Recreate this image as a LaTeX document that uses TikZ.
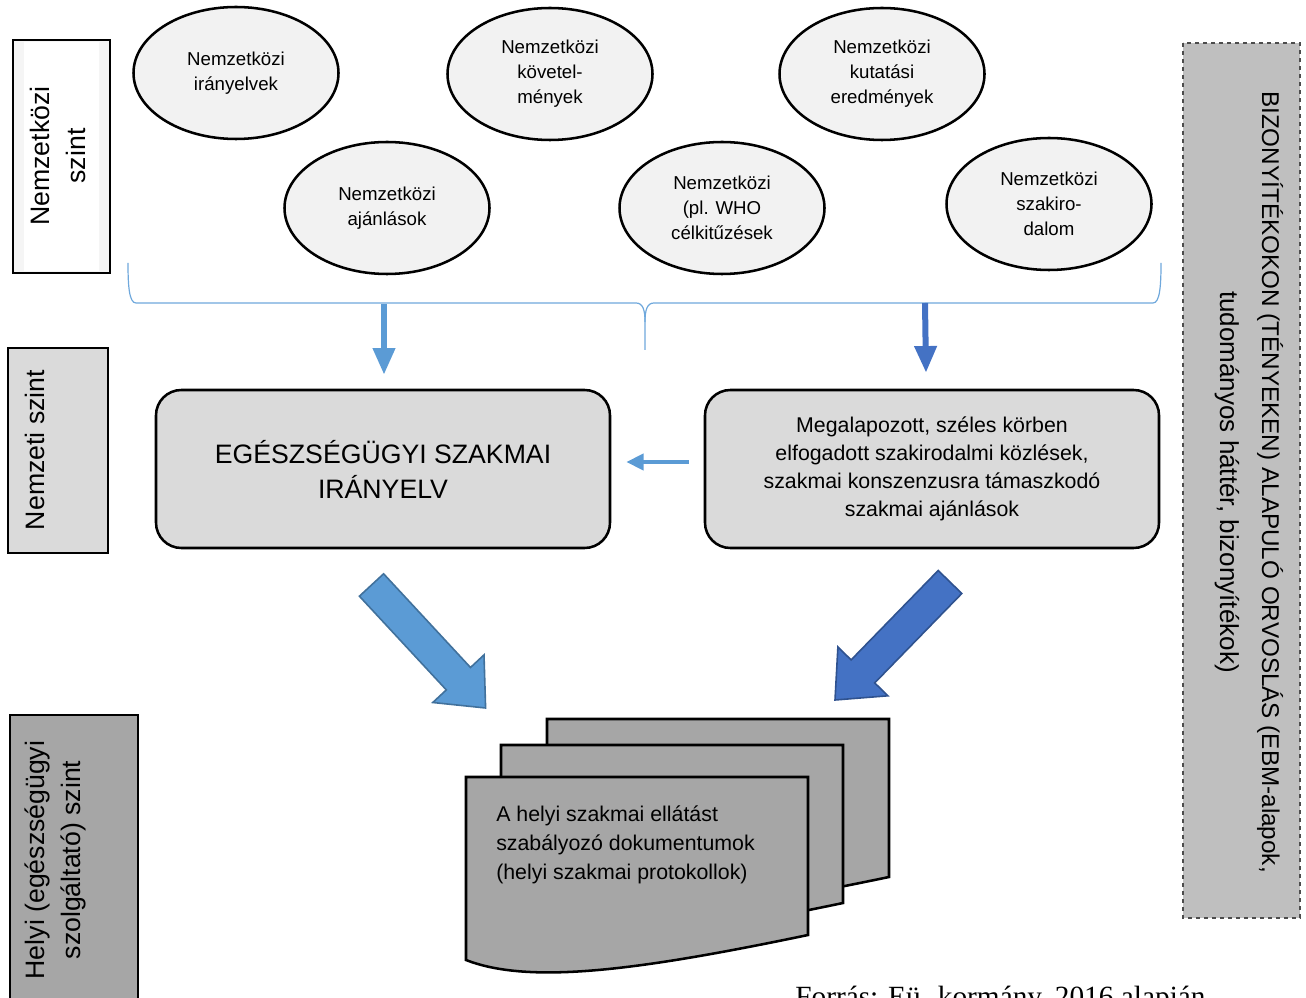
\documentclass[tikz,border=0pt]{standalone}
\usepackage{fontspec}
\setmainfont{Liberation Sans}
\newfontfamily\srcfont{Liberation Serif}
\usetikzlibrary{shapes.geometric,arrows.meta,calc}

\definecolor{ellfill}{HTML}{F2F2F2}
\definecolor{boxfill}{HTML}{DADADA}
\definecolor{docfill}{HTML}{A6A6A6}
\definecolor{ebmfill}{HTML}{BFBFBF}
\definecolor{lightblue}{HTML}{5B9BD5}
\definecolor{lightblueedge}{HTML}{41719C}
\definecolor{darkblue}{HTML}{4472C4}
\definecolor{darkblueedge}{HTML}{2F528F}
\definecolor{bracecol}{HTML}{6FA8DC}

\begin{document}
\begin{tikzpicture}[x=0.75pt,y=-0.75pt,
  frame/.style={draw=black,line width=1.9pt},
  source/.style={ellipse,draw=black,line width=1.9pt,fill=ellfill,
    minimum width=153.75pt,minimum height=99pt,inner sep=0pt,align=center,
    font=\fontsize{14}{18.75}\selectfont},
  bigbox/.style={rectangle,rounded corners=19pt,draw=black,line width=1.9pt,
    fill=boxfill,minimum width=340.5pt,minimum height=118.5pt,align=center},
  lvltext/.style={rotate=90,align=center,font=\fontsize{20}{27}\selectfont},
  thinarrow/.style={draw=lightblue,line width=4.5pt,
    -{Triangle[length=20pt,width=16pt]}},
  doc/.style={draw=black,line width=1.9pt,fill=docfill},
  blockarrow/.style={line width=1.2pt,line join=miter}
]
\useasboundingbox (0,0) rectangle (1306,998);
\clip (0,0) rectangle (1306,998);

% ---- level labels on the left ----
\fill[gray!8] (13,40) rectangle (110,273);
\fill[white] (24,42) rectangle (99,271);
\draw[frame] (13,40) rectangle (110,273);
\node (lvint) [lvltext] at (58,156) {Nemzetközi\\szint};

\draw[frame,fill=boxfill] (8,348) rectangle (108,553);
\node (lvnat) [lvltext] at (35,450) {Nemzeti szint};

\draw[frame,fill=docfill] (10,715) rectangle (138,1012);
\node (lvloc) [lvltext] at (55,860) {Helyi (egészségügyi\\szolgáltató) szint};

% ---- evidence-based medicine column on the right ----
\draw[draw=black!70,dashed,line width=0.8pt,fill=ebmfill] (1183,43) rectangle (1300,918);
\node (ebm) [rotate=-90,align=center,font=\fontsize{18.2}{31.5}\selectfont]
  at (1249,482) {BIZONYÍTÉKOKON (TÉNYEKEN) ALAPULÓ ORVOSLÁS (EBM-alapok,\\
  {\fontsize{19.5}{31.5}\selectfont tudományos háttér, bizonyítékok)}};

% ---- international sources ----
\node (e1) [source] at (236,73)  {Nemzetközi\\irányelvek};
\node (e2) [source] at (550,74)  {Nemzetközi\\követel-\\mények};
\node (e3) [source] at (882,74)  {Nemzetközi\\kutatási\\eredmények};
\node (e4) [source] at (387,208) {Nemzetközi\\ajánlások};
\node (e5) [source] at (722,208) {Nemzetközi\\(pl. WHO\\célkitűzések};
\node (e6) [source] at (1049,204) {Nemzetközi\\szakiro-\\dalom};

% ---- brace collecting the sources ----
\draw[bracecol,line width=0.9pt] (128,263) .. controls (128,285) and (129,303) .. (136,303)
  -- (636,303) .. controls (643,303) and (645,310) .. (645,322) -- (645,350);
\draw[bracecol,line width=0.9pt] (645,322) .. controls (645,310) and (647,303) .. (654,303)
  -- (1153,303) .. controls (1160,303) and (1161,285) .. (1161,263);
\coordinate (braceL) at (384,304);
\coordinate (braceR) at (925,303);

% ---- national level ----
\node (guide) [bigbox,font=\fontsize{20}{26.25}\selectfont] at (383,469)
  {EGÉSZSÉGÜGYI SZAKMAI\\IRÁNYELV};
\node (recs) [bigbox,font=\fontsize{16}{21}\selectfont] at (932,469)
  {Megalapozott, széles körben\\elfogadott szakirodalmi közlések,\\
   szakmai konszenzusra támaszkodó\\szakmai ajánlások};

\draw[thinarrow] (braceL) -- ($(guide.north)+(1,-14)$);
\draw[thinarrow,draw=darkblue] (braceR) -- ($(recs.north)+(-6,-16)$);
\draw[draw=lightblue,line width=3pt,-{Triangle[length=13pt,width=12pt]}]
  ($(recs.west)+(-15,-7)$) -- ($(guide.east)+(15,-7)$);

% ---- block arrows down to the local documents ----
\draw[blockarrow,fill=lightblue,draw=lightblueedge]
  (383.6,573.8) -- (470.5,667.5) -- (484.0,654.9) -- (485.6,708)
  -- (432.8,702.5) -- (446.3,689.9) -- (359.4,596.2) -- cycle;
\draw[blockarrow,fill=darkblue,draw=darkblueedge]
  (938.2,570.5) -- (961.8,593.5) -- (874.7,682.9) -- (887.9,695.8)
  -- (835,700) -- (837.9,647.0) -- (851.1,659.9) -- cycle;

% ---- stack of local documents ----
\foreach \dx/\dy in {81/-58, 35/-32, 0/0}{
  \begin{scope}[shift={(\dx,\dy)}]
    \draw[doc] (466,777) -- (808,777) -- (808,935)
      .. controls (640,970) and (530,985) .. (466,960) -- cycle;
  \end{scope}
}
\node (localdoc) [anchor=north west,inner sep=0pt,align=left,
  font=\fontsize{16}{21.4}\selectfont] at (496,806)
  {A helyi szakmai ellátást\\szabályozó dokumentumok\\(helyi szakmai protokollok)};

% ---- source line ----
\node (src) [anchor=base west,inner sep=0pt,font=\srcfont\fontsize{22}{26}\selectfont]
  at (795,1006) {Forrás: Eü. kormány, 2016 alapján};
\end{tikzpicture}
\end{document}
